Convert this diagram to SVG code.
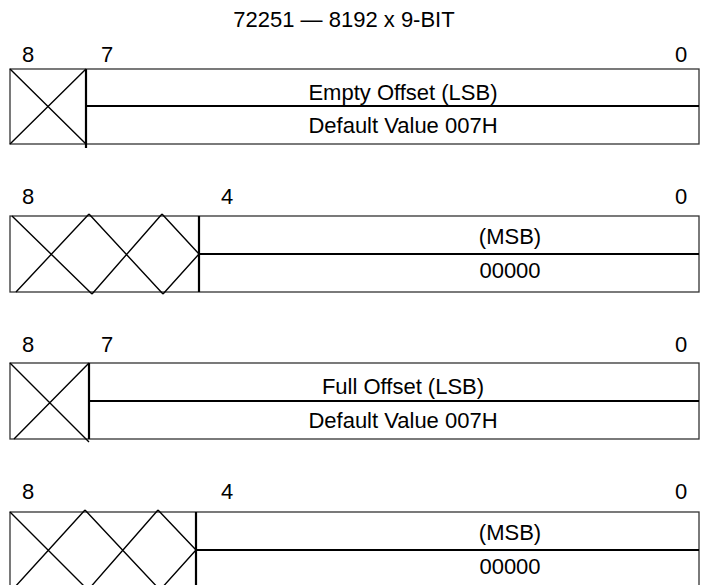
<svg xmlns="http://www.w3.org/2000/svg" width="706" height="585" viewBox="0 0 706 585">
<style>
text{font-family:"Liberation Sans",Arial,sans-serif;font-size:22px;fill:#000}
.c{text-anchor:middle}
.box{fill:#fff;stroke:#333;stroke-width:1.3}
.div{stroke:#000;stroke-width:2.2;fill:none}
.x{stroke:#000;stroke-width:1.4;fill:none}
</style>
<rect width="706" height="585" fill="#fff"/>
<text id="title" class="c" x="344" y="27">72251 — 8192 x 9-BIT</text>
<g id="reg1">
<text class="c" x="28" y="62">8</text>
<text class="c" x="107" y="62">7</text>
<text class="c" x="681" y="62">0</text>
<rect class="box" x="10" y="69" width="689" height="75"/>
<path class="x" d="M10 69L86 144M10 144L86 69"/>
<path class="div" d="M86 69V148M86 106H699"/>
<text class="c" x="403" y="100">Empty Offset (LSB)</text>
<text class="c" x="403" y="133">Default Value 007H</text>
</g>
<g id="reg2">
<text class="c" x="28" y="204">8</text>
<text class="c" x="227" y="204">4</text>
<text class="c" x="681" y="204">0</text>
<rect class="box" x="10" y="216" width="689" height="76"/>
<path class="x" d="M12 216L92 294M16 292L89 214M89 214L163 294M92 294L162 214M162 214L199 254M163 294L199 254"/>
<path class="div" d="M199 216V292M199 254H699"/>
<text class="c" x="510" y="244">(MSB)</text>
<text class="c" x="510" y="278">00000</text>
</g>
<g id="reg3">
<text class="c" x="28" y="352">8</text>
<text class="c" x="107" y="352">7</text>
<text class="c" x="681" y="352">0</text>
<rect class="box" x="10" y="363" width="689" height="76"/>
<path class="x" d="M10 363L89 442M14 439L89 363"/>
<path class="div" d="M89 363V439M89 401H699"/>
<text class="c" x="403" y="394">Full Offset (LSB)</text>
<text class="c" x="403" y="428">Default Value 007H</text>
</g>
<g id="reg4">
<text class="c" x="28" y="499">8</text>
<text class="c" x="227" y="499">4</text>
<text class="c" x="681" y="499">0</text>
<rect class="box" x="10" y="512" width="689" height="76"/>
<path class="x" d="M10 512L88 590M14 588L85 510M85 510L160 590M88 590L158 510M158 510L196 550M160 590L196 550"/>
<path class="div" d="M196 512V588M196 550H699"/>
<text class="c" x="510" y="540">(MSB)</text>
<text class="c" x="510" y="574">00000</text>
</g>
</svg>
